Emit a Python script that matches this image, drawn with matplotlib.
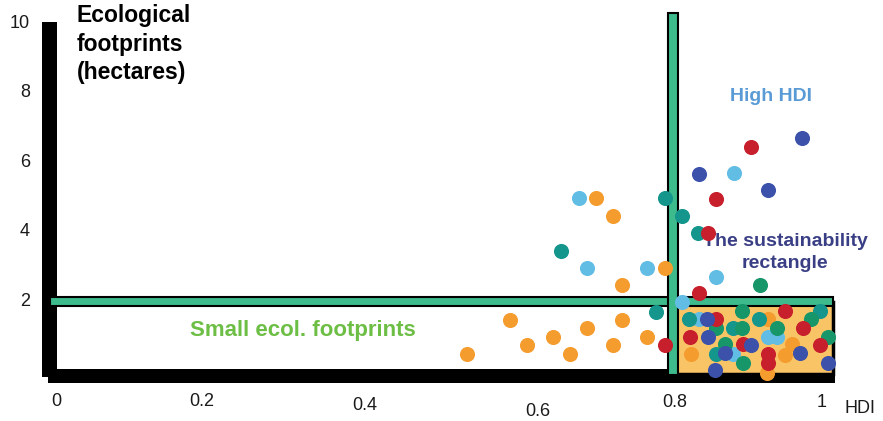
import matplotlib
matplotlib.use("Agg")
import matplotlib.pyplot as plt
from matplotlib.patches import Rectangle

plt.rcParams['font.family'] = ['Liberation Sans', 'DejaVu Sans']

# ---------------- data (HDI, ecological footprint in hectares) ----------------
orange_hdi = [0.704, 0.725, 0.790, 0.736, 0.596, 0.736, 0.6925, 0.650, 0.7675, 0.6175,
              0.725, 0.5425, 0.671, 0.919, 0.949, 0.8225, 0.940, 0.9175]
orange_ef = [4.97, 4.45, 2.96, 2.47, 1.47, 1.47, 1.24, 0.98, 0.98, 0.75,
             0.75, 0.49, 0.49, 1.49, 0.78, 0.49, 0.46, -0.06]

lightblue_hdi = [0.6825, 0.6925, 0.7675, 0.811, 0.876, 0.854, 0.8325, 0.919, 0.930, 0.875]
lightblue_ef = [4.97, 2.96, 2.96, 1.98, 5.69, 2.70, 1.49, 0.98, 0.98, 0.49]

teal_hdi = [0.790, 0.811, 0.660, 0.779, 0.831, 0.820, 0.9075, 0.984, 0.875, 0.854]
teal_ef = [4.97, 4.45, 3.45, 1.70, 3.97, 1.49, 1.49, 1.72, 1.24, 0.49]

green_hdi = [0.909, 0.886, 0.9725, 0.854, 0.886, 0.930, 0.994, 0.865, 0.8875]
green_ef = [2.47, 1.72, 1.49, 1.24, 1.24, 1.24, 0.98, 0.78, 0.23]

red_hdi = [0.8975, 0.854, 0.844, 0.8325, 0.790, 0.854, 0.940, 0.9625, 0.821, 0.8875,
           0.984, 0.919, 0.919]
red_ef = [6.44, 4.94, 3.97, 2.24, 0.75, 1.49, 1.72, 1.24, 0.98, 0.78,
          0.75, 0.49, 0.23]

blue_hdi = [0.961, 0.8325, 0.919, 0.8425, 0.844, 0.8975, 0.865, 0.959, 0.994, 0.8525]
blue_ef = [6.70, 5.66, 5.20, 1.49, 0.98, 0.75, 0.52, 0.52, 0.23, 0.03]

hdi_threshold = 0.8
ef_threshold = 2.0
hdi_max = 1.0

xtick_labels = ['0', '0.2', '0.4', '0.6', '0.8', '1']
ytick_values = [2, 4, 6, 8, 10]
ytick_labels = ['2', '4', '6', '8', '10']

# ---------------- layout ----------------
xtick_anchor = [0.0294, 0.211, 0.415, 0.631, 0.8025, 0.986]
xtick_y = [-0.862, -0.862, -0.977, -1.149, -0.891, -0.891]

fig = plt.figure(figsize=(8.83, 4.21), dpi=100)
ax = fig.add_axes([0, 0, 1, 1])
ax.set_xlim(-0.04125, 1.0625)
ax.set_ylim(-1.428, 10.661)
ax.axis('off')

# black axes bars
ax.add_patch(Rectangle((0.01125, -0.17), 0.01875, 10.20, facecolor='black',
                       edgecolor='none', zorder=1))
ax.add_patch(Rectangle((0.019, -0.345), 0.9835, 0.40, facecolor='black',
                       edgecolor='none', zorder=1))

# sustainability rectangle
ax.add_patch(Rectangle((hdi_threshold, -0.09), hdi_max - hdi_threshold,
                       ef_threshold + 0.09, facecolor='#F9C466',
                       edgecolor='black', linewidth=2.5, zorder=2))

green = '#3DBB8C'
# horizontal threshold line
ax.add_patch(Rectangle((0.021, ef_threshold - 0.13), hdi_max - 0.021, 0.26,
                       facecolor=green, edgecolor='black', linewidth=1.5, zorder=3))
# vertical threshold line
ax.add_patch(Rectangle((hdi_threshold - 0.0065, -0.11), 0.013, 10.40,
                       facecolor=green, edgecolor='black', linewidth=1.5, zorder=3))

ms = 118
ax.scatter(orange_hdi, orange_ef, s=ms, color='#F59C2E', linewidths=0, zorder=5)
ax.scatter(lightblue_hdi, lightblue_ef, s=ms, color='#62BDE5', linewidths=0, zorder=5)
ax.scatter(teal_hdi, teal_ef, s=ms, color='#14968D', linewidths=0, zorder=5)
ax.scatter(green_hdi, green_ef, s=ms, color='#17966A', linewidths=0, zorder=5)
ax.scatter(red_hdi, red_ef, s=ms, color='#C81F2C', linewidths=0, zorder=5)
ax.scatter(blue_hdi, blue_ef, s=ms, color='#3C51AA', linewidths=0, zorder=5)

# tick labels
for lab, xa, ya in zip(xtick_labels, xtick_anchor, xtick_y):
    ax.text(xa, ya, lab, ha='center', va='center', fontsize=13, color='#1a1a1a')
ax.text(1.0338, -1.063, 'HDI', ha='center', va='center', fontsize=13, color='#1a1a1a')
for v, lab in zip(ytick_values, ytick_labels):
    ax.text(-0.004, v, lab, ha='right', va='center', fontsize=13, color='#1a1a1a')

# annotations
ax.text(0.055, 10.55, 'Ecological\nfootprints\n(hectares)', ha='left', va='top',
        fontsize=16.5, fontweight='bold', color='black', linespacing=1.32)
ax.text(0.9225, 7.90, 'High HDI', ha='center', va='center', fontsize=14,
        fontweight='bold', color='#5A9BD5')
ax.text(0.94, 3.42, 'The sustainability\nrectangle', ha='center', va='center',
        fontsize=14, fontweight='bold', color='#3A3F85', linespacing=1.38)
ax.text(0.3375, 1.18, 'Small ecol. footprints', ha='center', va='center',
        fontsize=16, fontweight='bold', color='#6DBE45')

fig.savefig('out.png', dpi=100)
